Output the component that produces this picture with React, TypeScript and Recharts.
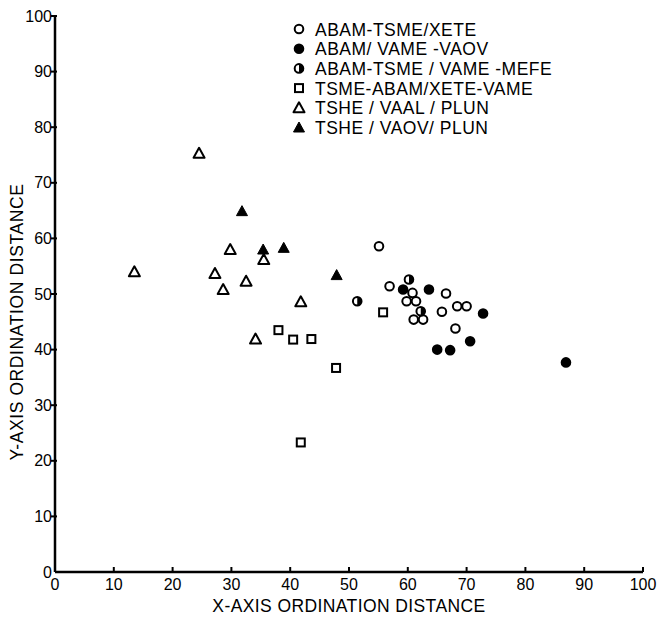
import React from "react"
import {
  ScatterChart,
  Scatter,
  XAxis,
  YAxis,
  Legend,
  Label,
} from "recharts"

type Pt = { x: number; y: number }

// ordination scores
const abamTsmeXete: Pt[] = [
  { x: 55.1, y: 58.6 }, { x: 56.9, y: 51.4 }, { x: 60.8, y: 50.2 },
  { x: 66.5, y: 50.1 }, { x: 59.8, y: 48.7 }, { x: 61.4, y: 48.7 },
  { x: 65.8, y: 46.8 }, { x: 68.4, y: 47.8 }, { x: 70.0, y: 47.8 },
  { x: 61.0, y: 45.4 }, { x: 62.6, y: 45.4 }, { x: 68.1, y: 43.8 },
]
const abamVameVaov: Pt[] = [
  { x: 59.2, y: 50.8 }, { x: 63.6, y: 50.8 }, { x: 72.8, y: 46.5 },
  { x: 70.6, y: 41.5 }, { x: 65.0, y: 40.0 }, { x: 67.2, y: 39.9 },
  { x: 86.9, y: 37.7 },
]
const abamTsmeVameMefe: Pt[] = [
  { x: 60.2, y: 52.6 }, { x: 51.4, y: 48.7 }, { x: 62.2, y: 46.9 },
]
const tsmeAbamXeteVame: Pt[] = [
  { x: 38.0, y: 43.5 }, { x: 40.5, y: 41.8 }, { x: 43.6, y: 41.9 },
  { x: 47.8, y: 36.7 }, { x: 55.8, y: 46.7 }, { x: 41.8, y: 23.3 },
]
const tsheVaalPlun: Pt[] = [
  { x: 13.5, y: 54.0 }, { x: 24.5, y: 75.3 }, { x: 29.8, y: 58.0 },
  { x: 27.2, y: 53.7 }, { x: 28.6, y: 50.8 }, { x: 32.5, y: 52.3 },
  { x: 35.5, y: 56.2 }, { x: 41.8, y: 48.6 }, { x: 34.1, y: 41.9 },
]
const tsheVaovPlun: Pt[] = [
  { x: 31.8, y: 64.9 }, { x: 35.4, y: 58.0 }, { x: 38.9, y: 58.3 },
  { x: 47.9, y: 53.4 },
]

const axisTicks = [0, 10, 20, 30, 40, 50, 60, 70, 80, 90, 100]

type Kind = "open" | "filled" | "half" | "square" | "tri" | "triFilled"

const seriesDefs: { name: string; kind: Kind; data: Pt[] }[] = [
  { name: "ABAM-TSME/XETE", kind: "open", data: abamTsmeXete },
  { name: "ABAM/ VAME -VAOV", kind: "filled", data: abamVameVaov },
  { name: "ABAM-TSME / VAME -MEFE", kind: "half", data: abamTsmeVameMefe },
  { name: "TSME-ABAM/XETE-VAME", kind: "square", data: tsmeAbamXeteVame },
  { name: "TSHE / VAAL / PLUN", kind: "tri", data: tsheVaalPlun },
  { name: "TSHE / VAOV/ PLUN", kind: "triFilled", data: tsheVaovPlun },
]

const FONT = "'Liberation Sans', Arial, sans-serif"

function Marker({ kind, cx, cy }: { kind: Kind; cx: number; cy: number }) {
  const r = 4.3
  if (kind === "open" || kind === "filled") {
    return (
      <circle cx={cx} cy={cy} r={r} fill={kind === "filled" ? "#000" : "#fff"} stroke="#000" strokeWidth={2} />
    )
  }
  if (kind === "half") {
    return (
      <g>
        <circle cx={cx} cy={cy} r={r} fill="#fff" stroke="#000" strokeWidth={2} />
        <path d={`M${cx},${cy - r} A${r},${r} 0 0 1 ${cx},${cy + r} Z`} fill="#000" />
      </g>
    )
  }
  if (kind === "square") {
    return <rect x={cx - 4} y={cy - 4} width={8} height={8} fill="#fff" stroke="#000" strokeWidth={2} />
  }
  const h = 9
  const w = 11
  const d = `M${cx},${cy - h / 2 - 1} L${cx + w / 2},${cy + h / 2} L${cx - w / 2},${cy + h / 2} Z`
  return (
    <path d={d} fill={kind === "triFilled" ? "#000" : "#fff"} stroke="#000" strokeWidth={kind === "triFilled" ? 1 : 2} strokeLinejoin="round" />
  )
}

function XTick(props: any) {
  const { x, y, payload } = props
  return (
    <g>
      {payload.value !== 0 && <line x1={x} x2={x} y1={y - 5} y2={y} stroke="#000" strokeWidth={2} />}
      <text x={x} y={y + 18} textAnchor="middle" fontSize={16} fontFamily={FONT} fill="#000">
        {payload.value}
      </text>
    </g>
  )
}

function YTick(props: any) {
  const { x, y, payload } = props
  return (
    <g>
      {payload.value !== 0 && <line x1={x - 4} x2={x + 2} y1={y} y2={y} stroke="#000" strokeWidth={2} />}
      <text x={x - 3} y={y + 5.5} textAnchor="end" fontSize={16} fontFamily={FONT} fill="#000">
        {payload.value}
      </text>
    </g>
  )
}

function YTitle() {
  return (
    <text
      x={0}
      y={0}
      transform="translate(23, 322) rotate(-90)"
      textAnchor="middle"
      fontSize={17.5}
      letterSpacing={0.6}
      fontFamily={FONT}
      fill="#000"
    >
      Y-AXIS ORDINATION DISTANCE
    </text>
  )
}

function LegendBox() {
  return (
    <svg width={290} height={125} style={{ display: "block" }}>
      {seriesDefs.map((s, i) => {
        const cy = 15 + i * 19.7
        return (
          <g key={s.name}>
            <Marker kind={s.kind} cx={9} cy={cy} />
            <text x={25} y={cy + 6.5} fontSize={17.5} letterSpacing={0.5} fontFamily={FONT} fill="#000">
              {s.name}
            </text>
          </g>
        )
      })}
    </svg>
  )
}

export default function App() {
  return (
    <div style={{ position: "absolute", left: 0, top: 0, background: "#fff" }}>
      <ScatterChart width={661} height={617} margin={{ top: 16, right: 18, bottom: 0, left: 0 }}>
        <XAxis
          type="number"
          dataKey="x"
          domain={[0, 100]}
          ticks={axisTicks}
          height={45}
          tickSize={0}
          tickMargin={0}
          tickLine={false}
          axisLine={{ stroke: "#000", strokeWidth: 2.5 }}
          tick={<XTick />}
          interval={0}
        >
          <Label
            value="X-AXIS ORDINATION DISTANCE"
            position="insideBottom"
            offset={5}
            style={{ fontSize: 17.5, letterSpacing: 0.4, fontFamily: FONT, fill: "#000" }}
          />
        </XAxis>
        <YAxis
          type="number"
          dataKey="y"
          domain={[0, 100]}
          ticks={axisTicks}
          width={55}
          tickSize={0}
          tickMargin={0}
          tickLine={false}
          axisLine={{ stroke: "#000", strokeWidth: 2.5 }}
          tick={<YTick />}
          interval={0}
        >
          <Label content={() => <YTitle />} />
        </YAxis>
        <Legend
          layout="vertical"
          align="center"
          verticalAlign="middle"
          wrapperStyle={{ left: 290, top: 14, width: 290 }}
          content={() => <LegendBox />}
        />
        {seriesDefs.map((s) => (
          <Scatter
            key={s.name}
            name={s.name}
            data={s.data}
            isAnimationActive={false}
            shape={(p: any) => <Marker kind={s.kind} cx={p.cx} cy={p.cy} />}
          />
        ))}
      </ScatterChart>
    </div>
  )
}
